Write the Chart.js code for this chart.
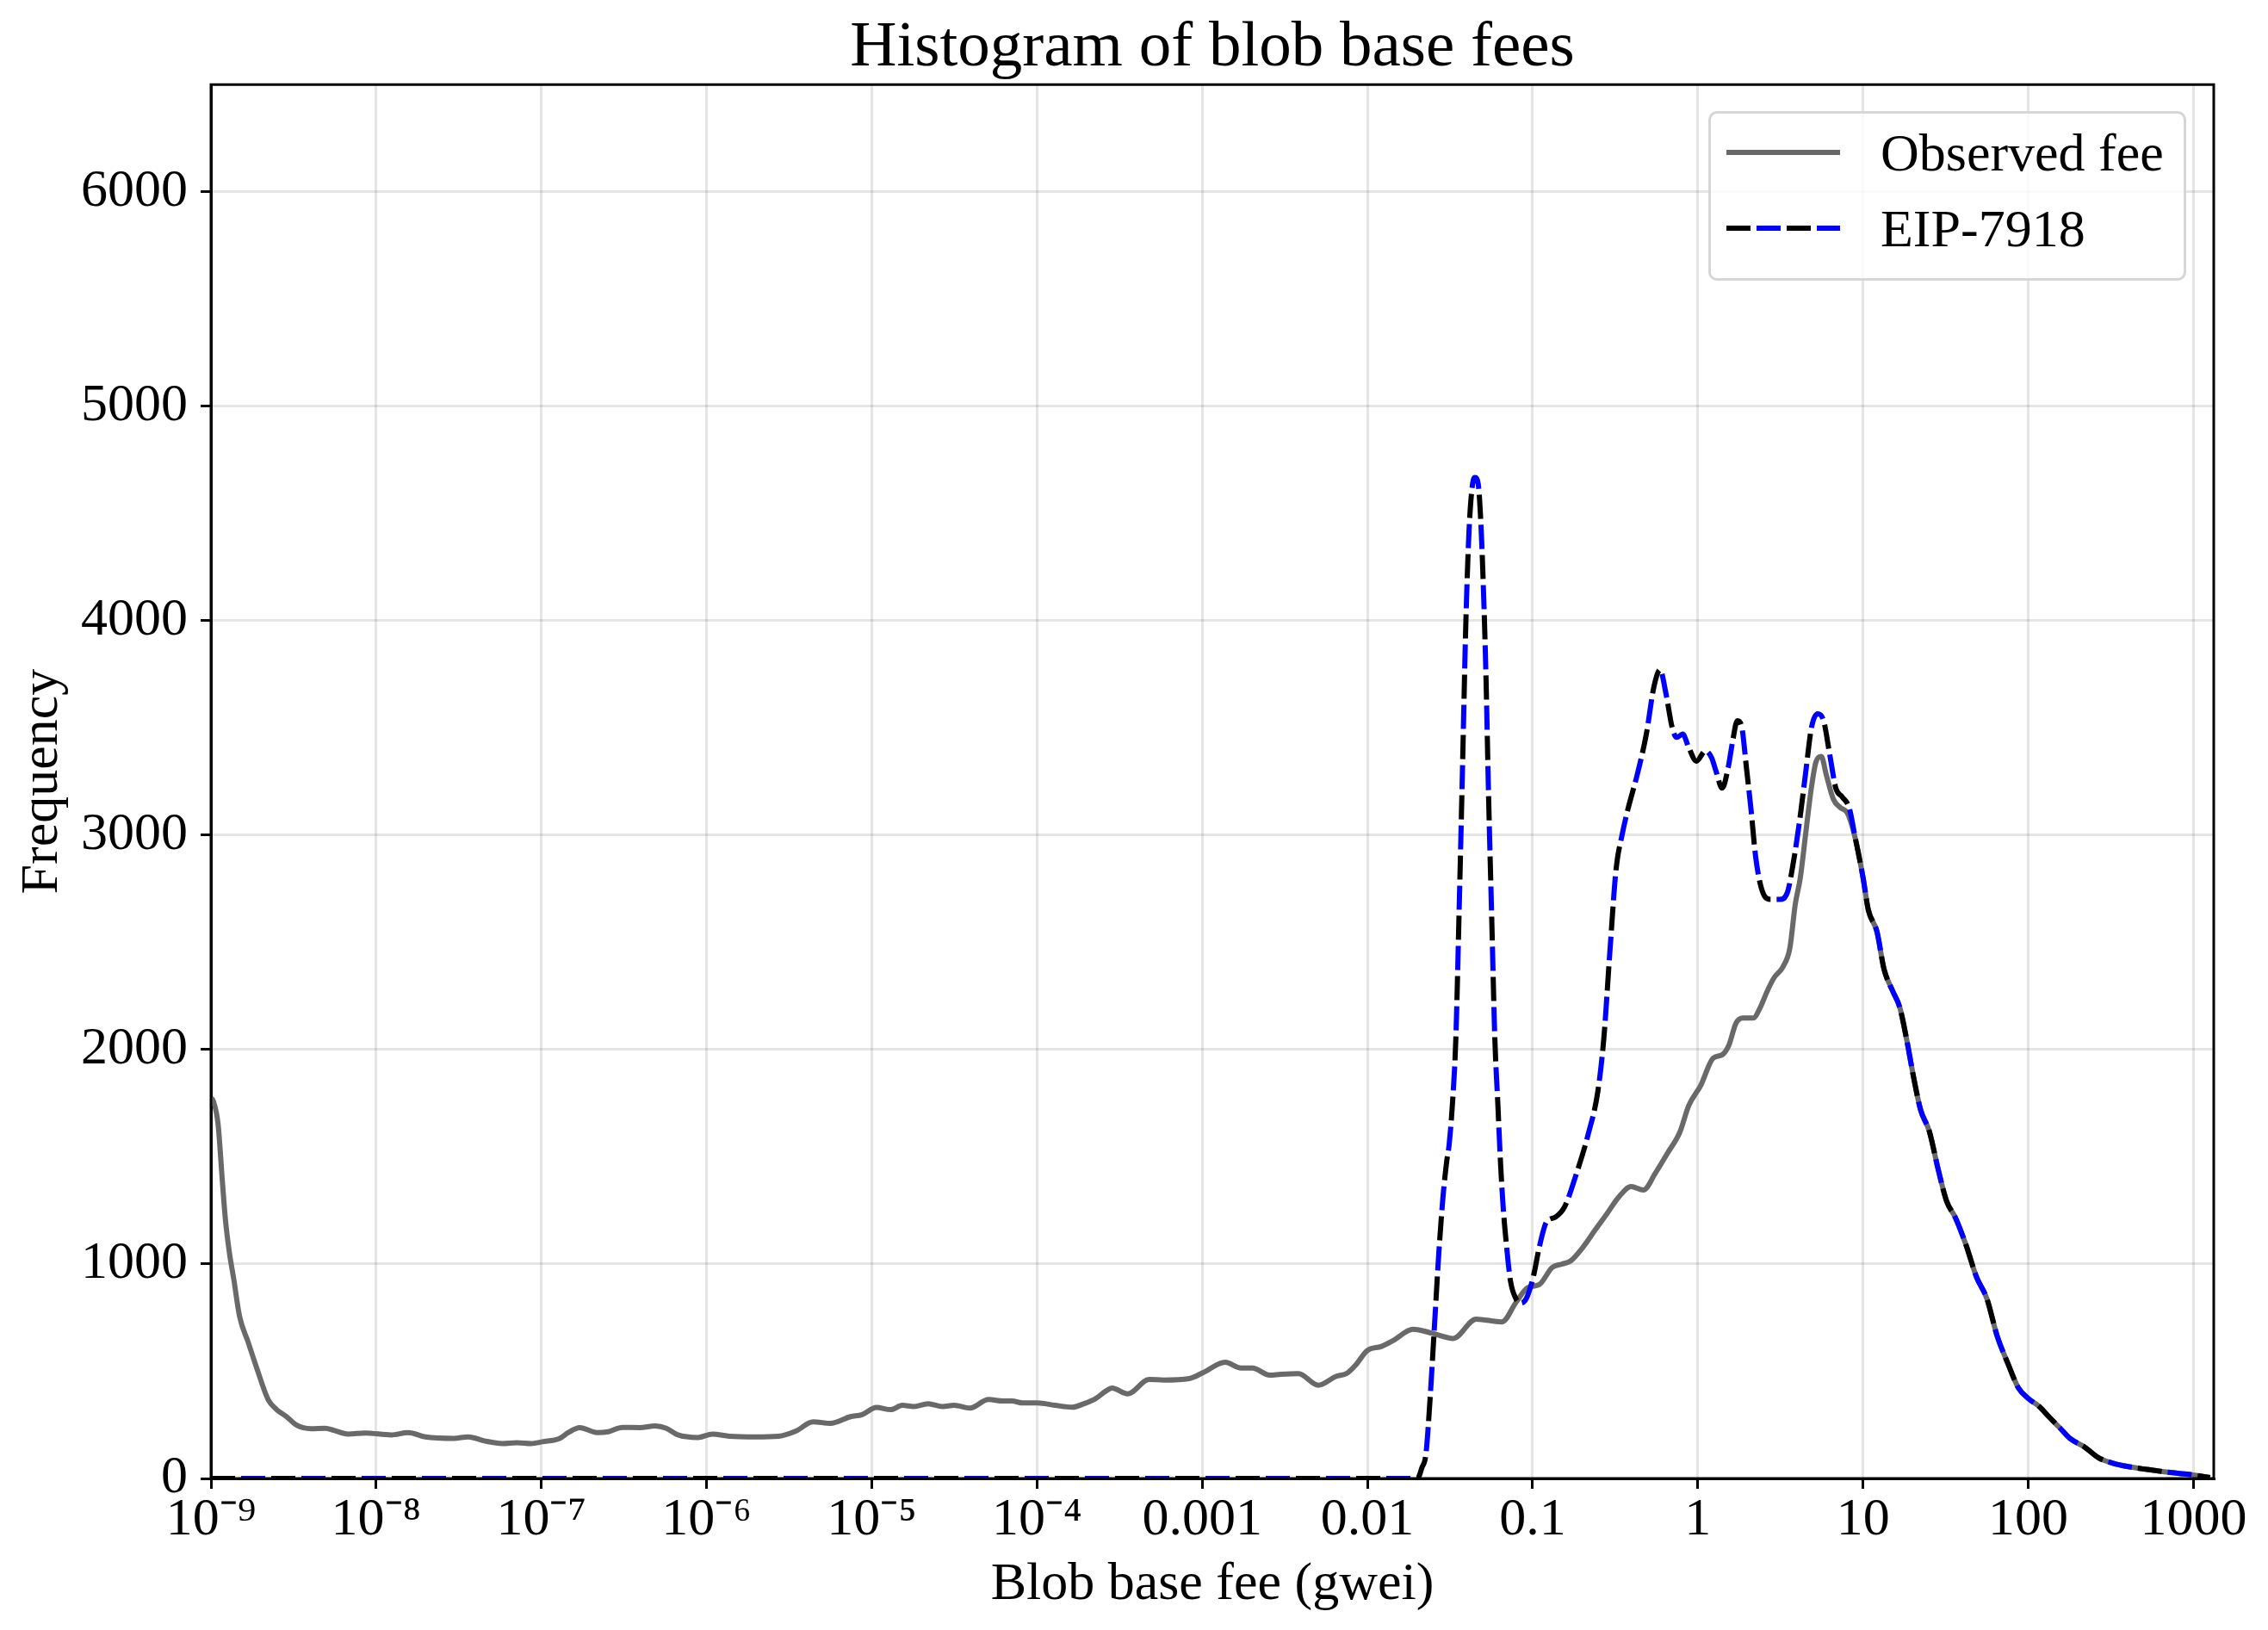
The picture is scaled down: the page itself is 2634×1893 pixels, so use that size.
<!DOCTYPE html>
<html>
<head>
<meta charset="utf-8">
<script src="https://cdn.jsdelivr.net/npm/chart.js@4.4.1/dist/chart.umd.min.js"></script>
<style>
body { margin: 0; background: #fff; }
.wrap { position: relative; width: 2634px; height: 1893px; }
.legend { position: absolute; box-sizing: border-box; width: 555px; height: 197px; border: 3px solid #d6d6d6; border-radius: 10px; background: rgba(255, 255, 255, 0.8); font-family: 'Liberation Serif', serif; font-size: 62px; color: #000; }
.legend-row { position: absolute; left: 18px; height: 88px; display: flex; align-items: center; line-height: 1; white-space: nowrap; }
.legend-row svg { margin-right: 47px; }
</style>
</head>
<body>
<div class="wrap"><canvas id="myChart"></canvas><div class="legend"></div></div>
<script>
const titleText = 'Histogram of blob base fees';
const xTitle = 'Blob base fee (gwei)';
const yTitle = 'Frequency';
const seriesNames = ['Observed fee', 'EIP-7918'];

// x ticks sit on decades, labels as in the picture
const xTickExp = [-9, -8, -7, -6, -5, -4, -3, -2, -1, 0, 1, 2, 3];
const xTickLabels = ['10⁻⁹', '10⁻⁸', '10⁻⁷', '10⁻⁶', '10⁻⁵', '10⁻⁴', '0.001', '0.01', '0.1', '1', '10', '100', '1000'];
const yTicks = [0, 1000, 2000, 3000, 4000, 5000, 6000];

// observed fee: log10(fee) and frequency
const observedExp = [
    -9.0, -8.986, -8.957, -8.931, -8.913, -8.888, -8.862, -8.827, -8.775, -8.723,
    -8.654, -8.602, -8.542, -8.481, -8.394, -8.308, -8.256, -8.17, -8.066, -7.91,
    -7.806, -7.702, -7.529, -7.443, -7.339, -7.235, -7.149, -7.062, -6.993, -6.889,
    -6.837, -6.768, -6.664, -6.595, -6.509, -6.405, -6.31, -6.244, -6.174, -6.052,
    -5.965, -5.861, -5.704, -5.564, -5.46, -5.355, -5.251, -5.129, -5.059, -4.972,
    -4.885, -4.815, -4.746, -4.659, -4.571, -4.502, -4.406, -4.293, -4.206, -4.153,
    -4.084, -3.997, -3.892, -3.787, -3.718, -3.648, -3.582, -3.547, -3.451, -3.321,
    -3.234, -3.078, -2.991, -2.861, -2.766, -2.696, -2.592, -2.523, -2.418, -2.297,
    -2.193, -2.123, -2.071, -2.002, -1.915, -1.845, -1.724, -1.602, -1.481, -1.342,
    -1.186, -1.099, -1.03, -0.96, -0.882, -0.826, -0.771, -0.697, -0.624, -0.55,
    -0.477, -0.404, -0.33, -0.257, -0.183, -0.11, -0.055, 0.018, 0.092, 0.146,
    0.188, 0.23, 0.272, 0.335, 0.378, 0.42, 0.462, 0.515, 0.557, 0.589,
    0.62, 0.652, 0.684, 0.715, 0.747, 0.778, 0.821, 0.863, 0.905, 0.947,
    1.0, 1.032, 1.084, 1.127, 1.179, 1.222, 1.264, 1.306, 1.348, 1.401,
    1.454, 1.506, 1.559, 1.622, 1.686, 1.749, 1.812, 1.876, 1.939, 2.0,
    2.065, 2.128, 2.192, 2.255, 2.34, 2.424, 2.508, 2.614, 2.719, 2.846,
    2.973, 3.1
];
const observedFreq = [
    1775, 1760, 1653, 1386, 1212, 1051, 930, 756, 636, 515,
    368, 321, 288, 248, 232, 234, 224, 207, 212, 203,
    214, 194, 187, 194, 174, 163, 167, 163, 171, 187,
    214, 237, 214, 218, 238, 237, 245, 234, 203, 191,
    207, 197, 194, 197, 221, 264, 257, 288, 298, 331,
    321, 341, 335, 348, 335, 341, 328, 368, 361, 361,
    352, 352, 341, 332, 348, 371, 408, 422, 395, 462,
    459, 466, 495, 542, 515, 515, 482, 486, 489, 435,
    475, 491, 529, 596, 616, 643, 696, 676, 653, 743,
    730, 823, 890, 904, 984, 999, 1014, 1077, 1156, 1235,
    1314, 1361, 1345, 1424, 1518, 1613, 1739, 1834, 1960, 1975,
    2021, 2122, 2147, 2147, 2197, 2273, 2336, 2386, 2474, 2675,
    2801, 3003, 3204, 3342, 3367, 3279, 3166, 3128, 3103, 3003,
    2801, 2650, 2550, 2374, 2273, 2197, 2046, 1870, 1719, 1619,
    1443, 1292, 1216, 1091, 940, 839, 663, 537, 424, 373,
    336, 285, 235, 185, 147, 97, 72, 54, 42, 29,
    19, 4
];

// EIP-7918: log10(fee) and frequency
const eipExp = [
    -9.0, -1.70, -1.685, -1.672, -1.646, -1.62, -1.594, -1.568, -1.542, -1.52,
    -1.505, -1.481, -1.465, -1.445, -1.425, -1.404, -1.385, -1.365, -1.349, -1.33,
    -1.315, -1.303, -1.284, -1.266, -1.248, -1.229, -1.211, -1.193, -1.177, -1.16,
    -1.134, -1.099, -1.073, -1.038, -0.995, -0.96, -0.917, -0.862, -0.807, -0.734,
    -0.661, -0.606, -0.569, -0.532, -0.495, -0.459, -0.422, -0.367, -0.312, -0.266,
    -0.229, -0.193, -0.156, -0.128, -0.092, -0.055, -0.009, 0.046, 0.083, 0.11,
    0.147, 0.183, 0.211, 0.239, 0.266, 0.294, 0.321, 0.349, 0.376, 0.404,
    0.44, 0.495, 0.541, 0.578, 0.615, 0.651, 0.688, 0.725, 0.761, 0.798,
    0.835, 0.873, 0.917, 0.947,
    1.0, 1.032, 1.084, 1.127, 1.179, 1.222, 1.264, 1.306, 1.348, 1.401,
    1.454, 1.506, 1.559, 1.622, 1.686, 1.749, 1.812, 1.876, 1.939, 2.0,
    2.065, 2.128, 2.192, 2.255, 2.34, 2.424, 2.508, 2.614, 2.719, 2.846,
    2.973, 3.1
];
const eipFreq = [
    0, 0, 15, 47, 114, 382, 716, 1051, 1319, 1480,
    1560, 1800, 2050, 2650, 3300, 4000, 4420, 4630, 4668, 4640,
    4480, 4259, 3786, 3156, 2621, 2054, 1750, 1450, 1250, 1100,
    920, 835, 818, 840, 944, 1078, 1195, 1219, 1266, 1424,
    1613, 1802, 2054, 2463, 2841, 3000, 3125, 3282, 3471, 3692,
    3771, 3660, 3503, 3456, 3471, 3408, 3345, 3393, 3361, 3298,
    3219, 3314, 3440, 3534, 3503, 3314, 3125, 2904, 2778, 2715,
    2700, 2700, 2731, 2873, 3062, 3282, 3503, 3566, 3534, 3377,
    3219, 3179, 3125, 3010,
    2801, 2650, 2550, 2374, 2273, 2197, 2046, 1870, 1719, 1619,
    1443, 1292, 1216, 1091, 940, 839, 663, 537, 424, 373,
    336, 285, 235, 185, 147, 97, 72, 54, 42, 29,
    19, 4
];

function toPoints(exps, freqs) {
    return exps.map(function (e, i) { return { x: Math.pow(10, e), y: freqs[i] }; });
}
const observedPts = toPoints(observedExp, observedFreq);
const eipPts = toPoints(eipExp, eipFreq);

Chart.defaults.font.family = "'Liberation Serif', 'Times New Roman', serif";
Chart.defaults.color = '#000';

// matplotlib draws a full box around the axes
const frame = {
    id: 'frame',
    afterDatasetsDraw(chart) {
        const a = chart.chartArea;
        const ctx = chart.ctx;
        ctx.save();
        ctx.strokeStyle = '#000';
        ctx.lineWidth = 3;
        ctx.strokeRect(a.left, a.top, a.right - a.left, a.bottom - a.top);
        ctx.restore();
    }
};

const gridOpts = { color: 'rgba(0,0,0,0.1)', lineWidth: 3, tickLength: 12, tickColor: '#000', tickWidth: 3 };

const ctx = document.getElementById('myChart').getContext('2d');
const myChart = new Chart(ctx, {
    type: 'line',
    data: {
        datasets: [{
            label: seriesNames[1],
            data: eipPts,
            borderColor: '#000000',
            borderWidth: 6,
            borderDash: [28, 42],
            borderDashOffset: 0,
            order: 0
        }, {
            label: seriesNames[1] + ' blue',
            data: eipPts,
            borderColor: '#0000ff',
            borderWidth: 6,
            borderDash: [28, 42],
            borderDashOffset: 35,
            order: 1
        }, {
            label: seriesNames[0],
            data: observedPts,
            borderColor: '#696969',
            borderWidth: 6,
            order: 2
        }]
    },
    options: {
        responsive: true,
        maintainAspectRatio: false,
        animation: false,
        events: [],
        layout: { padding: { left: 0, right: 63, top: 0, bottom: 0 } },
        elements: {
            point: { radius: 0 },
            line: { cubicInterpolationMode: 'monotone', borderJoinStyle: 'round', fill: false }
        },
        plugins: {
            legend: { display: false },
            tooltip: { enabled: false },
            title: {
                display: true,
                fullSize: false,
                text: titleText,
                color: '#000',
                font: { size: 75, weight: 'normal', lineHeight: 1.11 },
                padding: { top: 15, bottom: 0 }
            }
        },
        scales: {
            x: {
                type: 'logarithmic',
                min: 1e-9,
                max: 1326,
                afterBuildTicks: function (scale) {
                    scale.ticks = xTickExp.map(function (e) { return { value: Math.pow(10, e) }; });
                },
                afterFit: function (scale) { scale.height = 176; },
                ticks: {
                    callback: function (v, i) { return xTickLabels[i]; },
                    color: '#000',
                    font: { size: 62 },
                    padding: 0,
                    maxRotation: 0,
                    autoSkip: false
                },
                grid: gridOpts,
                border: { color: '#000', width: 3 },
                title: { display: true, text: xTitle, color: '#000', font: { size: 62 }, padding: { top: 0, bottom: 15 } }
            },
            y: {
                min: 0,
                max: 6500,
                afterBuildTicks: function (scale) {
                    scale.ticks = yTicks.map(function (v) { return { value: v }; });
                },
                afterFit: function (scale) { scale.width = 245; },
                ticks: {
                    callback: function (v) { return String(v); },
                    color: '#000',
                    font: { size: 62 },
                    padding: 15
                },
                grid: gridOpts,
                border: { color: '#000', width: 3 },
                title: { display: true, text: yTitle, color: '#000', font: { size: 62 }, padding: { top: 13, bottom: 0 } }
            }
        }
    },
    plugins: [frame]
});

// html legend, placed in the upper right of the plot area
function sampleLine(stroke, dash, offset) {
    var s = '<line x1="0" y1="6" x2="132" y2="6" stroke="' + stroke + '" stroke-width="6"';
    if (dash) s += ' stroke-dasharray="' + dash + '" stroke-dashoffset="' + offset + '"';
    return s + '/>';
}

var text = [];
text.push('<div class="legend-row" style="top:1px">');
text.push('<svg width="132" height="12">' + sampleLine('#696969') + '</svg>');
text.push('<span>' + seriesNames[0] + '</span></div>');
text.push('<div class="legend-row" style="top:89px">');
text.push('<svg width="132" height="12">' + sampleLine('#0000ff', '28 42', 35) + sampleLine('#000000', '28 42', 0) + '</svg>');
text.push('<span>' + seriesNames[1] + '</span></div>');

var legendBox = document.querySelector('.legend');
legendBox.innerHTML = text.join('');
var area = myChart.chartArea;
legendBox.style.left = (area.right - 32 - 555) + 'px';
legendBox.style.top = (area.top + 31) + 'px';
</script>
</body>
</html>
